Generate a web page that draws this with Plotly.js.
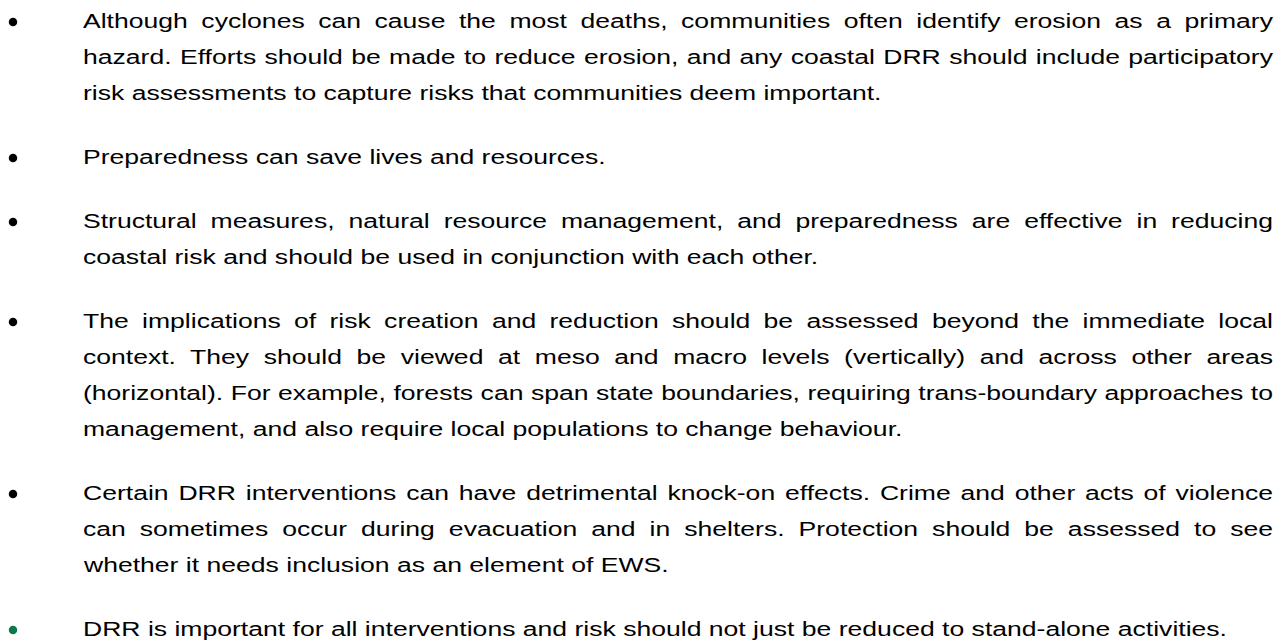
<!DOCTYPE html>
<html>
<head>
<meta charset="utf-8">
<script src="https://cdn.plot.ly/plotly-3.0.1.min.js"></script>
<style>
html,body{margin:0;padding:0;background:#fff;}
#chart{width:1288px;height:641px;}
</style>
</head>
<body>
<div id="chart"></div>
<script>
// ---- content (text data) ----
const para1 = [
  "Although cyclones can cause the most deaths, communities often identify erosion as a primary",
  "hazard. Efforts should be made to reduce erosion, and any coastal DRR should include participatory",
  "risk assessments to capture risks that communities deem important."
];
const para2 = [
  "Preparedness can save lives and resources."
];
const para3 = [
  "Structural measures, natural resource management, and preparedness are effective in reducing",
  "coastal risk and should be used in conjunction with each other."
];
const para4 = [
  "The implications of risk creation and reduction should be assessed beyond the immediate local",
  "context. They should be viewed at meso and macro levels (vertically) and across other areas",
  "(horizontal). For example, forests can span state boundaries, requiring trans-boundary approaches to",
  "management, and also require local populations to change behaviour."
];
const para5 = [
  "Certain DRR interventions can have detrimental knock-on effects. Crime and other acts of violence",
  "can sometimes occur during evacuation and in shelters. Protection should be assessed to see",
  "whether it needs inclusion as an element of EWS."
];
const para6 = [
  "DRR is important for all interventions and risk should not just be reduced to stand-alone activities."
];
const paragraphs = [para1, para2, para3, para4, para5, para6];
const bulletColors = ["#000000", "#000000", "#000000", "#000000", "#000000", "#0b7a4b"];

// ---- layout constants ----
const W = 1288, H = 641;
const FONT = "Liberation Sans, Arial, sans-serif";
const FS = 21;
const STRETCH = 1.265;           // horizontal stretch of the glyphs
const TEXT_X = 81, LEFT_X = 83, RIGHT_X = 1273, BULLET_X = 13;
const FIRST_BASE = 28, LINE_H = 36, PARA_GAP = 28;
const MID_OFF = 7.3; // baseline -> middle of text box

const annotations = [];
const justifyIdx = [];
const bx = [], by = [], bc = [];
let lineIdx = 0;
paragraphs.forEach((p, pi) => {
  p.forEach((line, li) => {
    const base = FIRST_BASE + LINE_H * lineIdx + PARA_GAP * pi;
    if (li === 0) { bx.push(BULLET_X); by.push(base - 6); bc.push(bulletColors[pi]); }
    if (li < p.length - 1) justifyIdx.push(annotations.length);
    annotations.push({
      x: TEXT_X, y: base - MID_OFF, xref: "x", yref: "y",
      xanchor: "left", yanchor: "middle", align: "left",
      text: line, showarrow: false,
      font: {family: FONT, size: FS, color: "#000000"}
    });
    lineIdx++;
  });
});

const data = [{
  type: "scatter", mode: "markers", x: bx, y: by,
  marker: {size: 8.5, color: bc}, hoverinfo: "skip", showlegend: false
}];

const layout = {
  width: W, height: H,
  margin: {l: 0, r: 0, t: 0, b: 0},
  paper_bgcolor: "#ffffff", plot_bgcolor: "#ffffff",
  xaxis: {range: [0, W], visible: false, fixedrange: true},
  yaxis: {range: [H, 0], visible: false, fixedrange: true},
  annotations: annotations,
  showlegend: false
};

Plotly.newPlot("chart", data, layout, {staticPlot: true, displayModeBar: false}).then(() => {
  const texts = document.querySelectorAll("#chart .annotation-text");
  texts.forEach((t, i) => {
    const x0 = parseFloat(t.getAttribute("x")) || 0;
    const prev = t.getAttribute("transform") || "";
    t.setAttribute("transform", `matrix(${STRETCH},0,0,1,${(x0 * (1 - STRETCH)).toFixed(3)},0) ${prev}`);
    if (justifyIdx.indexOf(i) >= 0) {
      const spaces = annotations[i].text.split(" ").length - 1;
      const w = t.getComputedTextLength();
      const extra = ((RIGHT_X - LEFT_X) / STRETCH - w) / spaces;
      if (extra > 0) t.setAttribute("word-spacing", extra.toFixed(3));
    }
  });
});
</script>
</body>
</html>
